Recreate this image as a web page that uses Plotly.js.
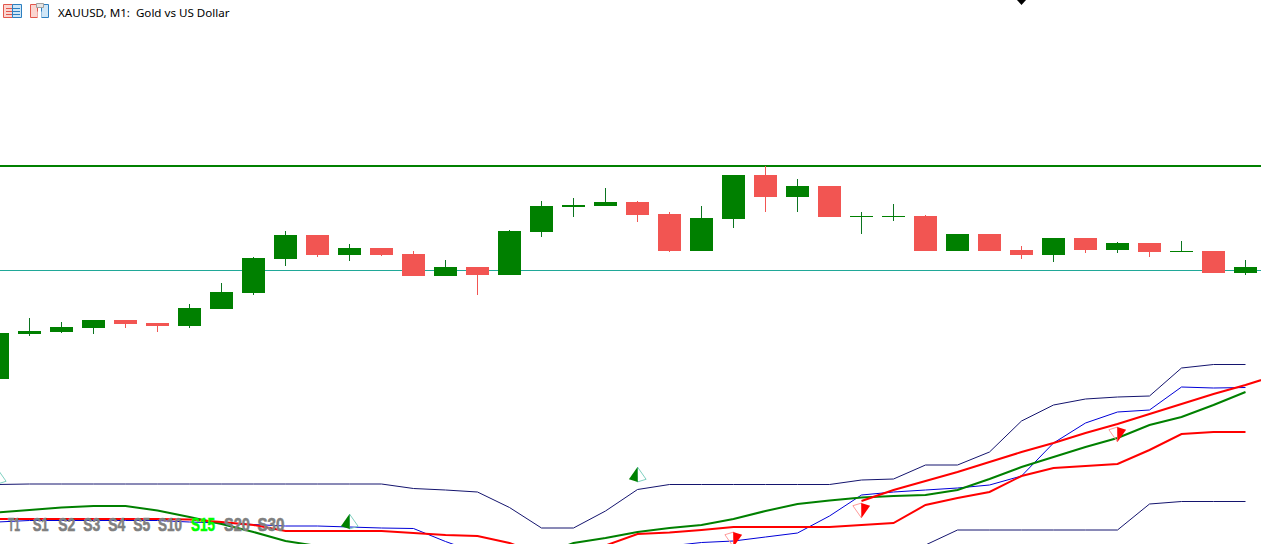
<!DOCTYPE html>
<html><head><meta charset="utf-8">
<script src="https://cdn.plot.ly/plotly-3.0.1.min.js"></script>
<style>html,body{margin:0;padding:0;background:#fff;overflow:hidden}#c{width:1261px;height:544px}</style>
</head><body><div id="c"></div>
<script>
const W = 1261, H = 544;
const title = "XAUUSD, M1:  Gold vs US Dollar";
const timeframes = ["T1","S1","S2","S3","S4","S5","S10","S15","S20","S30"];
const activeTimeframe = "S15";
const index = Array.from({length:41},(_,i)=>i);

const open  = [165,210,212,216,224,221,218,235,251,285,309,289,296,290,268,277,269,312,337,338,342,330,293,325,369,347,358,327,327,328,293,310,294,289,306,294,301,292,293,271];
const high  = [211,226,222,224,224,221,240,261,287,313,309,300,296,293,284,277,314,343,346,356,343,332,338,369,378,365,358,332,340,329,310,310,298,306,306,302,301,303,293,284];
const low   = [165,208,211,210,216,212,216,235,249,278,287,283,288,268,268,249,269,307,327,338,322,292,293,316,332,332,327,310,323,293,293,293,285,282,291,291,287,292,271,269];
const close = [211,213,217,224,220,218,236,252,286,309,289,296,289,268,277,269,313,338,339,342,329,293,326,369,347,358,327,328,328,293,310,293,289,306,294,301,292,293,271,277];

const resistance = 378;
const pivot = 273.5;

const bandUpper = [59.5,60,60,60,60,60,60,60,60,60,60,60,60,55.5,54,52,36.5,16,16,33,54.5,59.5,59.5,59.5,59.5,59.5,59.5,64,65,79,79,92,123,139,145,147,148,176,179.5,179.5];
const bandMid   = [22,23.5,23.5,23.5,23.5,23.5,22,21,19.5,18,18,17,16,15.5,2.5,-9,-21,-31,-36,-31,-16,-2,1.5,3,7,11,28,49,52,54,56,59,68,101,121,132,134,157,156,156.5];
const bandLower = [null,null,null,null,null,null,null,null,null,null,null,null,null,null,null,null,null,null,null,null,null,null,null,null,null,null,null,null,null,-1,14,14,14,14,14,14,40,42.5,42.5,42.5];
const maGreen   = [31.5,34,36.5,38,38,33.5,27,20,12,3,-2,-8,-12,-16,-21,-26,-26,-11,1,6,12,16,19,25,33,40,43.5,46.5,48,49,54,65,77,87,97,106,119,127,139,152];
const maRed     = [25,25,25,25,25,25,24.5,22,19,13,13,13,13,11,9,8,1,-11,-14,-1.5,10,11.5,14,17,17,17,17,19,21,39,46,52,68,76,78,80,94,110,112,112];
const trendRed  = [null,null,null,null,null,null,null,null,null,null,null,null,null,null,null,null,null,null,null,null,null,null,null,null,null,null,null,43,54,63,72,82,92,101,111,120,130,140,150,159,169];

const upArrowIdx = [0,11,20];
const upArrowTip = [75,30,77];
const downArrowIdx = [23,27,35];
const downArrowTip = [-3,26,102];

const GREEN="#008000", WICK="#0B7420", RED="#F25552", NAVY="#14146E", BLUE="#0000D8", PURE="#FF0000";
const candleIdx = index.slice(0,40);
const up = close.map((c,i)=>c>=open[i]);
const line=(y,color,width)=>({type:"scatter",mode:"lines",x:index,y,line:{color,width,simplify:false},connectgaps:false,hoverinfo:"skip"});
const mark=(x,y,symbol,size,color,lineColor,lw,angle)=>({type:"scatter",mode:"markers",x,y,hoverinfo:"skip",
  marker:{symbol,size,color,angle:angle||0,line:{color:lineColor,width:lw}}});

const traces=[
 {type:"bar",x:candleIdx,base:low,y:high.map((h,i)=>h-low[i]),width:1/32,hoverinfo:"skip",
  marker:{color:up.map(u=>u?WICK:RED),line:{width:0}}},
 {type:"bar",x:candleIdx,base:open.map((o,i)=>Math.min(o,close[i])),y:open.map((o,i)=>Math.abs(o-close[i])),width:23/32,hoverinfo:"skip",
  marker:{color:up.map(u=>u?GREEN:RED),line:{width:0}}},
 line(bandUpper,NAVY,1),
 line(bandLower,NAVY,1),
 line(bandMid,BLUE,1),
 line(maGreen,GREEN,2),
 line(maRed,PURE,2),
 line(trendRed,PURE,2),
 mark(upArrowIdx,upArrowTip,"arrow",15,"rgba(255,255,255,0)","#7FD0C0",1,-17),
 mark(upArrowIdx,upArrowTip,"arrow",15,GREEN,GREEN,0,17),
 mark(downArrowIdx,downArrowTip,"arrow",15,"rgba(255,255,255,0)","#FF9A9A",1,163),
 mark(downArrowIdx,downArrowTip,"arrow",15,PURE,PURE,0,197)
];

const px=x=>x/W, py=y=>1-y/H;
const rect=(x0,y0,x1,y1,fill,stroke)=>({type:"rect",xref:"paper",yref:"paper",x0:px(x0),x1:px(x1),y0:py(y0),y1:py(y1),fillcolor:fill,line:{color:stroke||fill,width:stroke?1:0}});
const hline=(x0,x1,y,color)=>({type:"line",xref:"paper",yref:"paper",x0:px(x0),x1:px(x1),y0:py(y),y1:py(y),line:{color,width:1}});
const shapes=[
 {type:"line",xref:"paper",x0:0,x1:1,y0:resistance,y1:resistance,layer:"below",line:{color:GREEN,width:2}},
 {type:"line",xref:"paper",x0:0,x1:1,y0:pivot,y1:pivot,layer:"below",line:{color:"#20A898",width:1}},
 rect(3.5,4.5,12.5,17.5,"#FBD5D0","#E2574C"),
 rect(12.5,4.5,21.5,17.5,"#CFE6F7","#2C7FC0"),
 hline(6,12,8.5,"#E2574C"),hline(6,12,11.5,"#E2574C"),hline(6,12,14.5,"#E2574C"),
 hline(13,20,8.5,"#2C7FC0"),hline(13,20,11.5,"#2C7FC0"),hline(13,20,14.5,"#2C7FC0"),
 rect(30.5,4.5,37.5,17.5,"#FBD5D0","#E2574C"),
 rect(41.5,4.5,48.5,17.5,"#CFE6F7","#2C7FC0"),
 rect(37.5,11.5,41.5,17.5,"#FFFFFF"),
 rect(36.5,3.5,43.5,7.5,"#E4E4E4","#A0A0A0"),
 {type:"path",xref:"paper",yref:"paper",path:`M ${px(1017)} ${py(0)} L ${px(1026)} ${py(0)} L ${px(1021.5)} ${py(5)} Z`,fillcolor:"#000",line:{width:0}}
];

const labelCentres=[14.5,41,66.5,91.5,116.5,141.5,170,203,237,270.5];
const labelWidths=[12,16,17,17,17,17,24,24,26,27];
const annotations=[
 {xref:"paper",yref:"paper",x:px(55.5),y:py(12),xanchor:"left",yanchor:"middle",showarrow:false,text:title,font:{family:"Noto Sans, DejaVu Sans, sans-serif",size:11.6,color:"#000"}},
 ...timeframes.map((t,i)=>({xref:"paper",yref:"paper",x:px(labelCentres[i]),y:py(524),xanchor:"center",yanchor:"middle",showarrow:false,text:t,
   font:{family:"Liberation Sans, sans-serif",size:19,weight:"bold",color:t===activeTimeframe?"#00FF00":"#808080"}}))
];

Plotly.newPlot("c",traces,{
 width:W,height:H,margin:{l:0,r:0,t:0,b:0},paper_bgcolor:"#fff",plot_bgcolor:"#fff",showlegend:false,barmode:"overlay",
 xaxis:{type:"linear",range:[2.5/32,(W+2.5)/32],visible:false,fixedrange:true},
 yaxis:{range:[0,H],visible:false,fixedrange:true},
 shapes,annotations
},{displayModeBar:false,staticPlot:true}).then(()=>{
 document.querySelectorAll(".annotation-text").forEach(el=>{
  const i=timeframes.indexOf(el.textContent);
  if(i>=0){
   el.setAttribute("textLength",labelWidths[i]);el.setAttribute("lengthAdjust","spacingAndGlyphs");
   el.style.stroke=timeframes[i]===activeTimeframe?"#00FF00":"#808080";el.style.strokeWidth="0.6px";
  }
 });
});
</script></body></html>
